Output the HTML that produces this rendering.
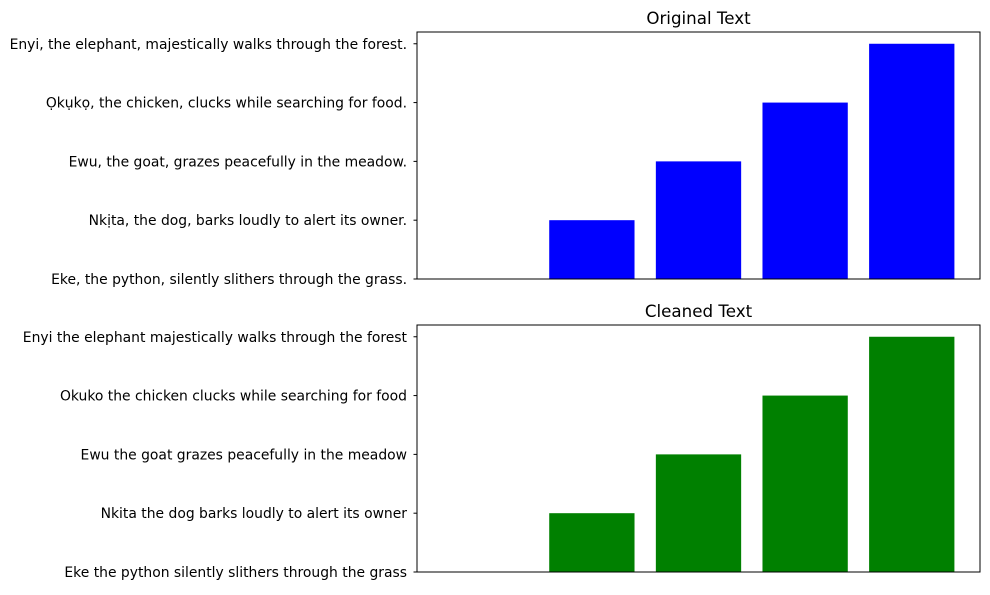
<!DOCTYPE html>
<html><head><meta charset="utf-8"><style>
body{margin:0;background:#fff}
svg text{font-family:"DejaVu Sans","Liberation Sans",sans-serif}
</style></head><body>
<svg id="c" width="990" height="590" xmlns="http://www.w3.org/2000/svg"></svg>
<script>
const origLabels=["Eke, the python, silently slithers through the grass.","Nkịta, the dog, barks loudly to alert its owner.","Ewu, the goat, grazes peacefully in the meadow.","Ọkụkọ, the chicken, clucks while searching for food.","Enyi, the elephant, majestically walks through the forest."];
const cleanLabels=["Eke the python silently slithers through the grass","Nkita the dog barks loudly to alert its owner","Ewu the goat grazes peacefully in the meadow","Okuko the chicken clucks while searching for food","Enyi the elephant majestically walks through the forest"];
const origValues=[0,1,2,3,4];
const cleanValues=[0,1,2,3,4];
const titles=["Original Text","Cleaned Text"];
const colors=["#0000ff","#008000"];

const svg=document.getElementById('c');
const NS="http://www.w3.org/2000/svg";
function mk(tag,attrs,parent){const e=document.createElementNS(NS,tag);for(const k in attrs)e.setAttribute(k,attrs[k]);(parent||svg).appendChild(e);return e;}

function panel(top,labels,values,title,color,prefix){
  const L=417,R=980,T=top,B=top+247;
  const n=labels.length;
  const xmin=-0.64,xmax=n-1+0.64;
  const ymax=(n-1)*1.05;
  const xs=v=>L+(v-xmin)/(xmax-xmin)*(R-L);
  const ys=v=>B-(v/ymax)*(B-T);
  const g=mk('g',{});
  
  
  values.forEach((v,i)=>{
    const y0=ys(0),y1=ys(v);
    const r=mk('rect',{x:xs(i-0.4),y:y1,width:xs(i+0.4)-xs(i-0.4),height:y0-y1,fill:color},g);
    
    
  });
  const f=mk('rect',{x:L,y:T,width:R-L,height:B-T,fill:'none',stroke:'#000','stroke-width':1},g);
  
  
  labels.forEach((s,i)=>{
    const y=ys(i);
    mk('line',{x1:L-3.5,x2:L,y1:y,y2:y,stroke:'#000','stroke-width':1},g);
    const t=mk('text',{x:L-10,y:y+5,'text-anchor':'end','font-size':13.9,fill:'#000'},g);
    t.textContent=s;
    
    
  });
  const tt=mk('text',{x:(L+R)/2,y:T-8,'text-anchor':'middle','font-size':16.7,fill:'#000'},g);
  tt.textContent=title;
  
  
}
panel(32,origLabels,origValues,titles[0],colors[0],'original');
panel(325,cleanLabels,cleanValues,titles[1],colors[1],'cleaned');
</script>
</body></html>
